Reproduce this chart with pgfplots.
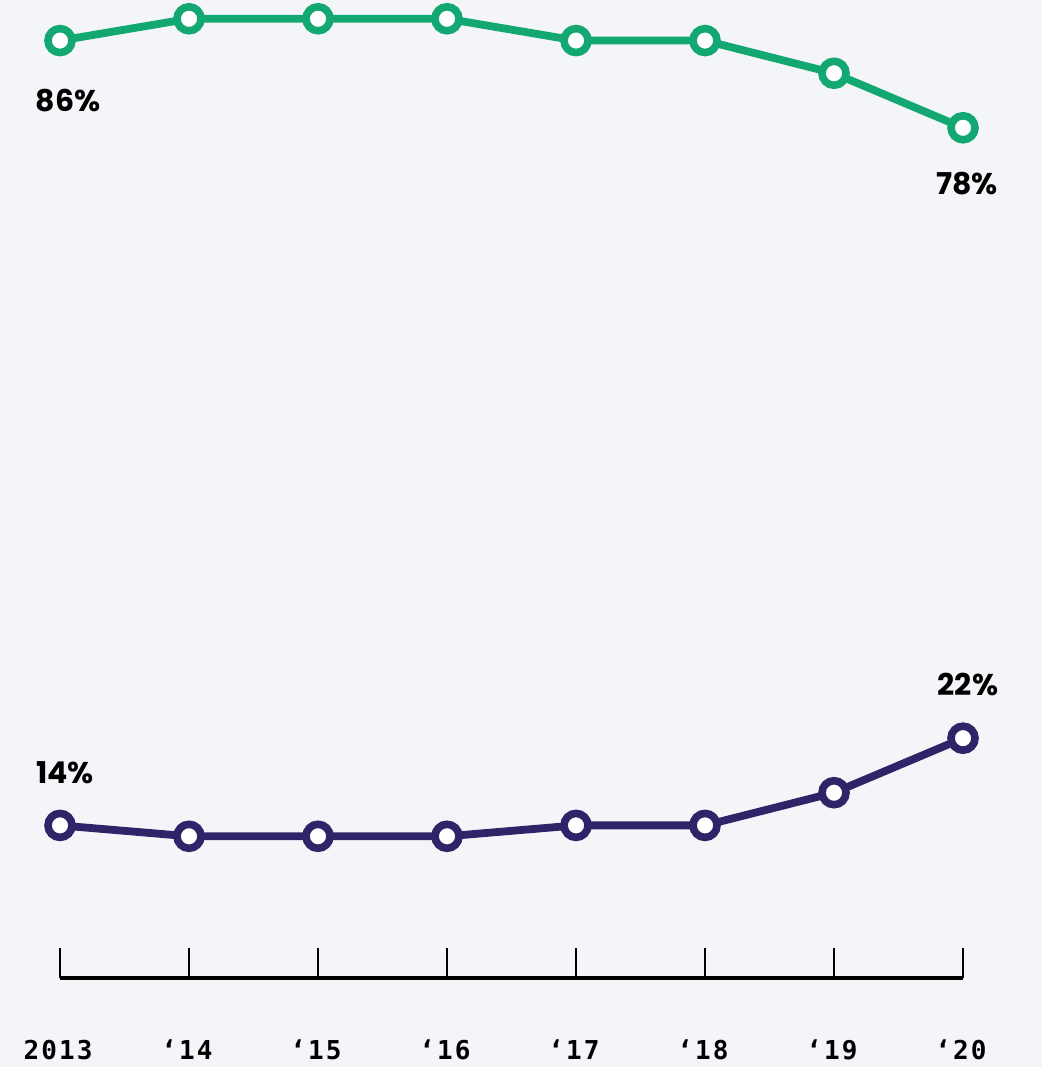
\documentclass[border=0pt]{standalone}
\usepackage{pgfplots}
\pgfplotsset{compat=1.18}
\usepackage{fontspec}
\setmainfont{Poppins}
\newfontfamily\monofont[LetterSpace=8]{DejaVu Sans Mono}
\definecolor{bg}{HTML}{F4F5F9}
\definecolor{grn}{HTML}{13A872}
\definecolor{pur}{HTML}{2D2567}
\begin{document}
\begin{tikzpicture}[x=1bp,y=1bp]
\fill[bg] (-30,-44.5) rectangle (491,489);
\begin{axis}[
  at={(0,0)}, anchor=origin, disabledatascaling,
  x=64.5bp, y=5.45bp,
  xmin=0, xmax=7, ymin=0, ymax=89,
  clip=false,
  axis x line*=bottom, axis y line=none,
  axis line style={black, line width=1.6bp},
  xtick={0,1,2,3,4,5,6,7},
  xticklabels={2013,‘14,‘15,‘16,‘17,‘18,‘19,‘20},
  tick style={black, line width=1.4bp},
  major tick length=15bp,
  tick align=inside,
  xticklabel style={anchor=center, yshift=-36bp, xshift=-1bp, font=\monofont\bfseries\fontsize{13bp}{15bp}\selectfont},
  ytick=\empty,
]
\addplot[grn, line width=3.9bp, mark=*, mark size=6bp,
  mark options={fill=white, draw=grn, line width=3.8bp}]
  coordinates {(0,86) (1,88) (2,88) (3,88) (4,86) (5,86) (6,83) (7,78)};
\addplot[pur, line width=3.9bp, mark=*, mark size=6bp,
  mark options={fill=white, draw=pur, line width=3.8bp}]
  coordinates {(0,14) (1,13) (2,13) (3,13) (4,14) (5,14) (6,17) (7,22)};
\node[font=\bfseries\fontsize{15bp}{17bp}\selectfont, anchor=center] at (axis cs:0,86) [yshift=-30bp, xshift=4bp] {86\%};
\node[font=\bfseries\fontsize{15bp}{17bp}\selectfont, anchor=center] at (axis cs:7,78) [yshift=-28bp, xshift=2bp] {78\%};
\node[font=\bfseries\fontsize{15bp}{17bp}\selectfont, anchor=center] at (axis cs:0,14) [yshift=26.5bp, xshift=2.5bp] {14\%};
\node[font=\bfseries\fontsize{15bp}{17bp}\selectfont, anchor=center] at (axis cs:7,22) [yshift=27bp, xshift=2.5bp] {22\%};
\end{axis}
\pgfresetboundingbox
\path (-30,-44.5) rectangle (491,489);
\end{tikzpicture}
\end{document}
